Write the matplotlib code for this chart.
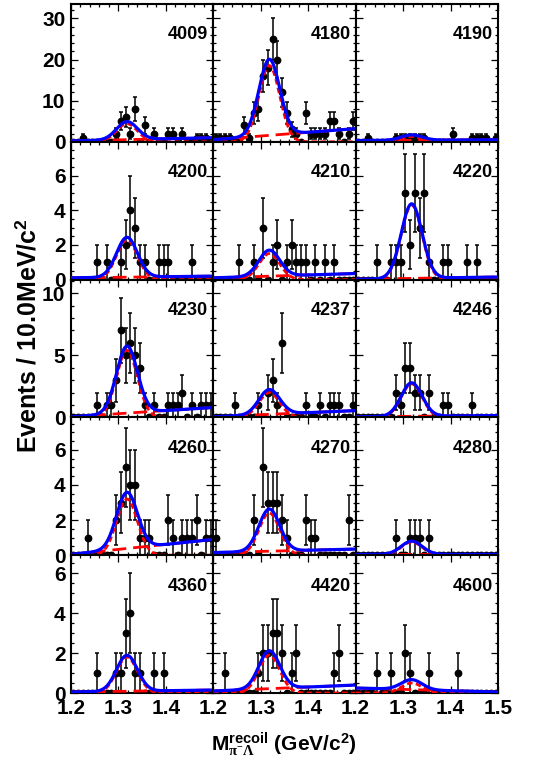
import matplotlib
matplotlib.use('Agg')
import matplotlib.pyplot as plt
import numpy as np
from matplotlib.ticker import MultipleLocator, FixedLocator

plt.rcParams['font.family'] = ['Liberation Sans', 'DejaVu Sans']
plt.rcParams['font.weight'] = 'bold'
plt.rcParams['mathtext.fontset'] = 'custom'
plt.rcParams['mathtext.rm'] = 'Liberation Serif'
plt.rcParams['mathtext.it'] = 'Liberation Serif:italic'
plt.rcParams['mathtext.bf'] = 'Liberation Sans:bold'

# energy points (MeV), one panel each
energies = [4009, 4180, 4190, 4200, 4210, 4220, 4230, 4237, 4246,
            4260, 4270, 4280, 4360, 4420, 4600]

# events per 10 MeV bin, 1.20 - 1.50 GeV
n4009 = [0,0,1,0,0,0,0,0,0,2, 5,6,2,8,0,4,0,2,0,0, 2,2,0,2,0,0,1,1,1,0]
n4180 = [1,1,1,1,0,0,4,1,7,8, 16,18,25,20,12,7,3,2,0,7, 2,2,2,2,5,5,2,0,2,5]
n4190 = [0,0,1,0,0,0,0,0,1,1, 1,1,1,1,1,0,0,0,0,0, 2,0,0,0,1,1,1,1,0,1]
n4200 = [0,0,0,0,0,1,0,1,0,0, 1,2,4,3,1,1,0,0,1,1, 1,0,0,0,0,1,0,0,0,0]
n4210 = [0,0,0,0,0,1,0,0,1,0, 3,0,1,2,0,1,2,1,1,1, 0,1,0,1,0,1,0,0,0,0]
n4220 = [0,0,0,0,1,0,0,1,1,1, 5,2,5,3,5,1,0,0,1,1, 0,0,0,1,0,1,0,0,0,0]
n4230 = [0,0,0,0,0,1,0,1,1,3, 7,5,6,5,4,1,0,1,0,0, 1,1,1,2,0,1,0,1,1,1]
n4237 = [0,0,0,0,1,0,0,0,0,1, 0,2,3,1,6,0,0,0,0,1, 0,0,1,0,1,1,1,0,0,1]
n4246 = [0,0,0,0,0,0,0,0,2,1, 4,4,2,2,0,2,0,0,1,1, 0,0,0,0,1,0,0,0,0,0]
n4260 = [0,0,0,1,0,0,0,0,0,2, 3,5,4,4,1,1,1,0,0,0, 2,1,0,1,1,1,2,0,1,1]
n4270 = [1,0,0,0,0,0,0,0,2,0, 5,3,3,3,2,1,0,0,0,2, 1,1,0,0,0,0,0,0,2,0]
n4280 = [0,0,0,0,0,0,0,0,1,0, 0,1,1,1,0,1,0,0,0,0, 0,0,0,0,0,0,0,0,0,0]
n4360 = [0,0,0,0,0,1,0,0,0,1, 1,3,4,1,1,0,0,1,0,1, 0,0,0,0,0,0,0,0,0,0]
n4420 = [0,0,1,0,0,0,0,0,0,1, 2,2,3,3,2,0,1,2,0,0, 0,0,0,0,0,1,2,0,0,0]
n4600 = [0,0,0,0,1,0,0,1,0,0, 2,1,0,0,0,1,0,0,0,0, 0,1,0,0,0,0,0,0,0,0]
counts = [n4009, n4180, n4190, n4200, n4210, n4220, n4230, n4237, n4246,
          n4260, n4270, n4280, n4360, n4420, n4600]

# fit results: signal peak height, background at 1.2 and 1.5
sig_amp = [4.4, 18.5, 1.3, 2.3, 1.5, 4.3, 5.4, 2.0, 2.7, 3.2, 2.4, 0.75, 1.8, 1.9, 0.5]
bkg_lo = [0.2, 0.5, 0.3, 0.1, 0.1, 0.02, 0.05, 0.05, 0.05, 0.05, 0.15, 0.05, 0.05, 0.1, 0.25]
bkg_hi = [1.0, 3.2, 0.5, 0.2, 0.35, 0.15, 0.8, 0.55, 0.15, 0.9, 0.35, 0.05, 0.15, 0.4, 0.05]
xi_mass = 1.318
xi_sigma = 0.022

# y range and tick steps per row
row_ymax = [33.5, 7.95, 11.1, 7.85, 6.9]
row_major = [10, 2, 5, 2, 2]
row_minor = [2, 0.5, 1, 0.5, 0.5]

bin_lo, bin_w, nbins = 1.2, 0.01, 30
centers = bin_lo + bin_w * (np.arange(nbins) + 0.5)
xx = np.linspace(1.2, 1.5, 301)

fig, axes = plt.subplots(5, 3, figsize=(5.49, 7.64), dpi=100)
fig.subplots_adjust(left=0.1293, right=0.9071, top=0.9948, bottom=0.0929,
                    hspace=0, wspace=0)

for k, ax in enumerate(axes.flat):
    r, c = divmod(k, 3)
    n = np.array(counts[k], dtype=float)

    # data points, zero bins drawn without error bars
    nz = n > 0
    ax.errorbar(centers[nz], n[nz], yerr=np.sqrt(n[nz]), fmt='o', color='black',
                ms=4.6, elinewidth=1.1, capsize=1.6, capthick=1.1, zorder=3)
    ax.plot(centers[~nz], n[~nz], 'o', color='black', ms=4.6, zorder=3)

    # fit components
    bkg = bkg_lo[k] + (bkg_hi[k] - bkg_lo[k]) * (xx - 1.2) / 0.3
    sig = sig_amp[k] * np.exp(-0.5 * ((xx - xi_mass) / xi_sigma) ** 2)
    ax.plot(xx, bkg, color='red', lw=2.0, ls=(0, (5, 2.5)), zorder=4)
    ax.plot(xx, sig, color='red', lw=2.0, ls=(0, (2, 1.2)), zorder=4)
    ax.plot(xx, sig + bkg, color='blue', lw=2.3, zorder=5)

    ax.set_xlim(1.2, 1.5)
    ax.set_ylim(0, row_ymax[r])
    ax.xaxis.set_major_locator(FixedLocator([1.2, 1.3, 1.4, 1.5]))
    ax.xaxis.set_minor_locator(MultipleLocator(0.02))
    ax.yaxis.set_major_locator(MultipleLocator(row_major[r]))
    ax.yaxis.set_minor_locator(MultipleLocator(row_minor[r]))
    ax.tick_params(which='both', direction='in', top=True, right=True,
                   labelsize=15, pad=4, width=0.9)
    ax.tick_params(which='major', length=4.8)
    ax.tick_params(which='minor', length=2.4)
    for s in ax.spines.values():
        s.set_linewidth(1.5)

    if c > 0:
        ax.set_yticklabels([])
    else:
        ax.set_yticks(np.arange(0, row_ymax[r], row_major[r]))
    if r < 4:
        ax.set_xticklabels([])
    else:
        labs = ['1.2', '1.3', '1.4', '1.5' if c == 2 else '']
        ax.set_xticklabels(labs)
    for lab in ax.get_xticklabels() + ax.get_yticklabels():
        lab.set_fontweight('bold')

    ax.text(0.965, 0.775, str(energies[k]), transform=ax.transAxes,
            ha='right', va='center', fontsize=13, fontweight='bold', zorder=6)

fig.text(28 / 549, 1 - 336 / 764, r'Events / 10.0MeV/c$^{\mathbf{2}}$',
         rotation=90, ha='center', va='center', fontsize=18, fontweight='bold')
fig.text(284 / 549, 1 - 744 / 764,
         r'$\mathbf{M}^{\mathbf{recoil}}_{\mathrm{\pi^{-}\Lambda}}$ (GeV/c$^{\mathbf{2}}$)',
         ha='center', va='center', fontsize=15, fontweight='bold')

fig.savefig('out.png', dpi=100)
